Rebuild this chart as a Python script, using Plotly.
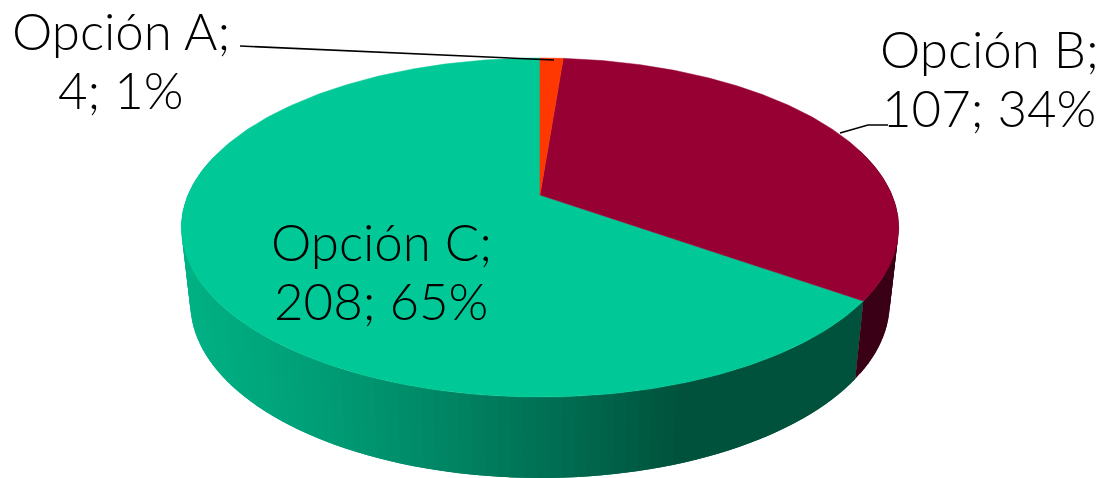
import numpy as np
import plotly.graph_objects as go

categories = ["Opción A", "Opción B", "Opción C"]
values = [4, 107, 208]
top_colors = ["#FF3700", "#960032", "#00C896"]
wall_base = ["#A02300", "#3A0016", None]
wall_x = [181, 300, 400, 540, 680, 900]
wall_r = [0, 0, 0, 0, 0, 0]
wall_g = [178, 160, 142, 112, 82, 82]
wall_b = [133, 120, 106, 84, 60, 60]

label_pos = [(121, 30, 89), (989, 48, 107), (381, 241, 300)]
FONT = "Lato"
FONT_SIZE = 51

# projection of the pie disc to the page
CX, CY, A, B, K = 540.0, 195.0, 352.0, 163.3, 0.192
SX, SY, DY = 0.975, 1.03, 69.0


def top(theta):
    w = 1 + K * np.cos(theta)
    return CX + A * np.sin(theta) / w, CY - B * np.cos(theta) / w


def bottom(theta):
    x, y = top(theta)
    return CX + SX * (x - CX), SY * y + DY


total = sum(values)
edges = np.concatenate([[0], np.cumsum(values)]) / total * 2 * np.pi
fig = go.Figure()


def poly(x, y, color, width=0.0):
    fig.add_trace(go.Scatter(x=x, y=y, mode="lines", fill="toself", fillcolor=color,
                             line=dict(color=color, width=width), hoverinfo="skip", showlegend=False))


# side wall, strip by strip (each strip overlaps the next so no seams show)
for i in [2, 1]:
    n = max(2, int((edges[i + 1] - edges[i]) / 0.03))
    th = np.linspace(edges[i], edges[i + 1], n + 1)
    step = th[1] - th[0]
    for t0, t1 in zip(th[:-1], th[1:]):
        mid = (t0 + t1) / 2
        if np.cos(mid) > 0.25:
            continue
        t_a = max(t0 - step, edges[i])
        x0, y0 = top(t_a); x1, y1 = top(t1)
        x2, y2 = bottom(t1); x3, y3 = bottom(t_a)
        if wall_base[i] is None:
            xm = (x0 + x1) / 2
            c = "rgb(%d,%d,%d)" % (np.interp(xm, wall_x, wall_r), np.interp(xm, wall_x, wall_g), np.interp(xm, wall_x, wall_b))
        else:
            c = wall_base[i]
        poly([x0, x1, x2, x3, x0], [y0, y1, y2, y3, y0], c)

# top face
for i in [2, 1, 0]:
    th = np.linspace(edges[i], edges[i + 1], 240)
    x, y = top(th)
    poly(np.r_[CX, x, CX], np.r_[CY, y, CY], top_colors[i], 0.5)

# leader lines
fig.add_trace(go.Scatter(x=[240, 262, 554], y=[46, 47, 60], mode="lines", line=dict(color="#000000", width=1.6),
                         hoverinfo="skip", showlegend=False))
fig.add_trace(go.Scatter(x=[840, 868, 888], y=[133, 125, 125], mode="lines", line=dict(color="#000000", width=1.6),
                         hoverinfo="skip", showlegend=False))

for name, v, (lx, y1, y2) in zip(categories, values, label_pos):
    for txt, ly in ((f"{name};", y1), (f"{v}; {round(100 * v / total)}%", y2)):
        fig.add_annotation(x=lx, y=ly, xref="x", yref="y", showarrow=False, align="center", text=txt,
                           height=56, valign="middle",
                           font=dict(family=FONT, size=FONT_SIZE, color="#000000", weight=300))

fig.update_xaxes(range=[0, 1106], visible=False, fixedrange=True)
fig.update_yaxes(range=[478, 0], visible=False, fixedrange=True)
fig.update_layout(width=1106, height=478, margin=dict(l=0, r=0, t=0, b=0), showlegend=False,
                  paper_bgcolor="#FFFFFF", plot_bgcolor="#FFFFFF")
fig.write_html("out.html", post_script="document.body.style.margin='0';", config={"displayModeBar": False})
